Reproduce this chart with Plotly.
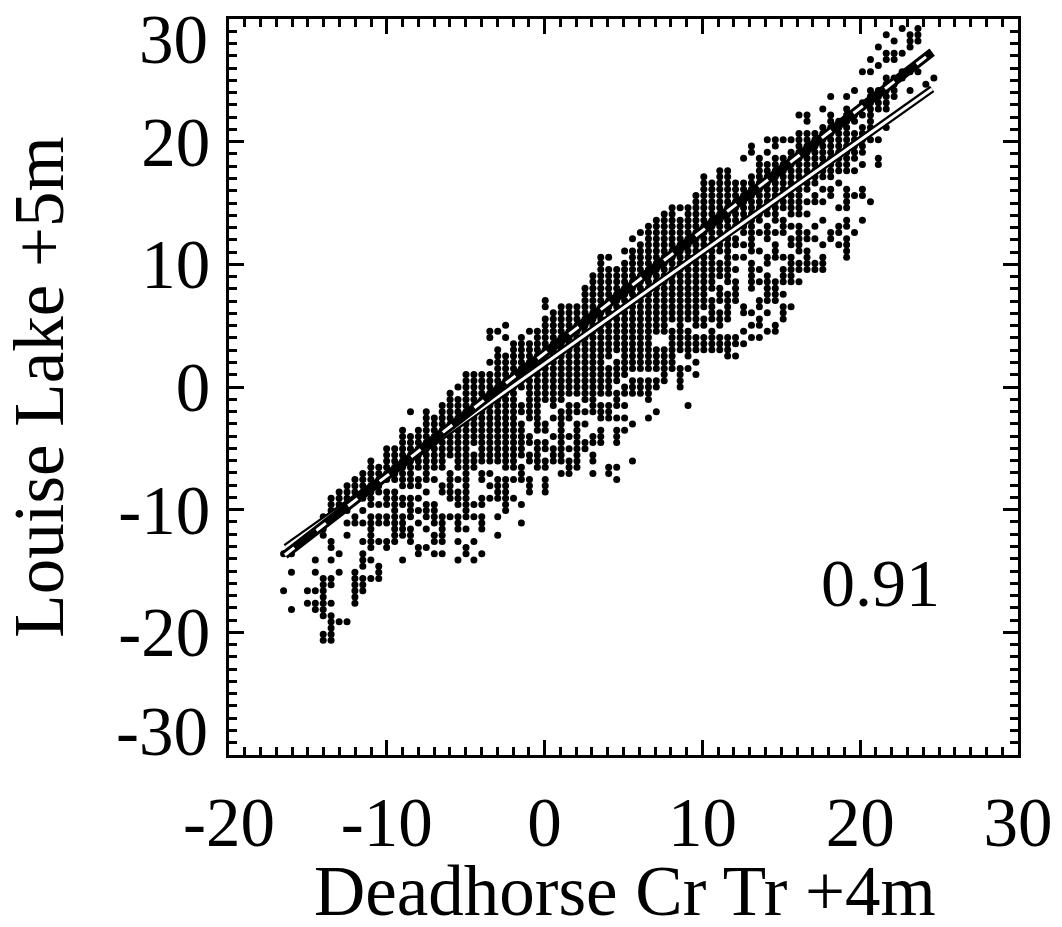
import plotly.graph_objects as go

x_levels = [-16.54,-16.04,-15.54,-15.03,-14.53,-14.03,-13.53,-13.02,-12.52,-12.02,
 -11.52,-11.01,-10.51,-10.01,-9.50,-9.00,-8.50,-8.00,-7.50,-6.99,
 -6.49,-5.99,-5.49,-4.98,-4.48,-3.98,-3.47,-2.97,-2.47,-1.97,
 -1.47,-0.96,-0.46,0.04,0.55,1.05,1.55,2.05,2.56,3.06,
 3.56,4.06,4.57,5.07,5.57,6.07,6.58,7.08,7.58,8.08,
 8.59,9.09,9.59,10.09,10.60,11.10,11.60,12.10,12.61,13.11,
 13.61,14.11,14.62,15.12,15.62,16.12,16.63,17.13,17.63,18.13,
 18.64,19.14,19.64,20.14,20.65,21.15,21.65,22.15,22.66,23.16,
 23.66,24.16,24.67]

y_levels = [-20.65,-20.15,-19.64,-19.14,-18.64,-18.13,-17.63,-17.12,-16.62,-16.12,
 -15.61,-15.11,-14.61,-14.10,-13.60,-13.09,-12.59,-12.09,-11.58,-11.08,
 -10.58,-10.07,-9.57,-9.06,-8.56,-8.06,-7.55,-7.05,-6.55,-6.04,
 -5.54,-5.03,-4.53,-4.03,-3.52,-3.02,-2.52,-2.01,-1.51,-1.01,
 -0.50,0.00,0.50,1.01,1.51,2.02,2.52,3.03,3.53,4.03,
 4.54,5.04,5.54,6.05,6.55,7.05,7.56,8.06,8.57,9.07,
 9.57,10.08,10.58,11.08,11.59,12.09,12.60,13.10,13.60,14.11,
 14.61,15.11,15.62,16.12,16.63,17.13,17.63,18.14,18.64,19.14,
 19.65,20.15,20.66,21.16,21.66,22.17,22.67,23.18,23.68,24.18,
 24.69,25.19,25.69,26.20,26.70,27.21,27.71,28.21,28.72,29.22]

# occupied y_levels rows, one entry per x_levels column
column_rows = [
 "8,14", "5,11,14", "", "6,8", "5-6,8,11,13",
 "0-1,4-10,17-18,20", "0-4,6,9-10,13,15-16,21-23", "3,11,14,21-24", "3,17,19,21-25", "6-11,19-20,23-26",
 "8-10,12-14,16,19,21,23-27", "10,13,15-20,22-29", "10-12,16,19-20,22,24-28", "15-16,19-20,22-24,26-31", "16-24,26-31",
 "13,17-20,22-23,25-34", "16-18,20-23,25-33,37", "14-15,19,21,23,25-26,28-34", "15,18,20-22,24,26-37", "14,16-17,19-22,26,28-36",
 "14,16-20,24-25,28-38", "20,23-27,30-40", "13,16,18-20,22-24,26,28-39,41", "14-15,18,20-43", "13,16,20,22,28-30,32-43",
 "14,18-20,22-23,26-27,29-43", "23,25,27,29-43,45,49-50", "17,20,23-26,29-47,50", "21-26,28-46,49,51", "23,26,28-48",
 "19,22,26-28,30-35,37-38,41-49", "24-26,29-30,32-33,36-48,50", "28-32,34-50", "24-26,28-29,31-32,34-35,39-52,54-55", "29-31,33,36,38-53",
 "27,29-37,39-54", "27-29,31,33,36-38,40-54", "28-35,37-38,40-54", "31-32,35,37,39-57", "27,29-30,32-33,37-59",
 "32-34,36-38,40-62", "27-28,36-38,40-44,46-60,62", "26,28,32-34,36,38-40,42-45,47-60", "34,36,38,40-41,43-61,63", "29,35,40-42,44-63,65",
 "40-42,44-64,66", "36,39-42,44-67", "37,41-42,44-47,50-68", "42-47,50-69", "44-50,52-70",
 "41-44,47-68,70", "38,44,46-50,52-70", "43,45,47-49,51-72", "47-49,51-52,54-75", "47-50,52-55,57-74",
 "47-49,51-53,55-57,59-61,63-64,66-76", "46-49,52-56,58-64,65-76", "46,48-49,55-58,60,62,64-65,67-74", "48,50,53-54,62,64,66-74,78", "49,51,53,57-61,63-75,79-80",
 "49,51-52,54-55,58,60,63,66,68-78", "50,53,55-59,61-62,65-67,69-77,79,81", "50-51,55-58,62-64,66,68-78,80-81", "52-54,56,58-60,62,66-68,70-78,81", "54,58-62,64-65,67,69-79,81",
 "58,60-61,63-67,69-82,85", "60-63,65-66,69,71,73-82,84-85", "60-61,65,67,71-72,74-82", "60-62,64,68,71,73,75-83,86", "65-66,72-73,75-85,88",
 "64,66-67,70,74,76-84", "62-65,67-68,70-73,76-86,88", "66,72,76,78-82,84-85,89", "68,72-73,77,79-83,85,87,92", "71,81,83-89,92,94",
 "77-78,81,86-89,93,96", "83,86-91,94-95,98", "88-91,94-95,97", "91-92,95,99", "89,92,96-98",
 "92,97-99", "90", "91",
]

fit_a_x = [-16.4, 24.56]
fit_a_y = [-13.06, 24.3]
fit_b_x = [-16.46, 24.56]
fit_b_y = [-13.7, 27.3]

x_ticks = [-20, -10, 0, 10, 20, 30]
y_ticks = [-20, -10, 0, 10, 20]
y_edge_labels = ["30", "-30"]
correlation = "0.91"
x_title = "Deadhorse Cr Tr +4m"
y_title = "Louise Lake +5m"

FONT = "Liberation Serif"
TICK_SIZE = 69
TITLE_SIZE = 71

px, py = [], []
for xv, spec in zip(x_levels, column_rows):
    for part in filter(None, spec.split(",")):
        lo, _, hi = part.partition("-")
        for j in range(int(lo), int(hi or lo) + 1):
            px.append(xv)
            py.append(y_levels[j])

fig = go.Figure()
fig.add_trace(go.Scatter(x=px, y=py, mode="markers",
                         marker=dict(color="black", size=7, line=dict(width=0))))
fig.add_trace(go.Scatter(x=fit_a_x, y=fit_a_y, mode="lines", line=dict(color="black", width=7.5)))
fig.add_trace(go.Scatter(x=fit_a_x, y=fit_a_y, mode="lines", line=dict(color="white", width=3)))
fig.add_trace(go.Scatter(x=fit_b_x, y=fit_b_y, mode="lines", line=dict(color="black", width=9)))
fig.add_trace(go.Scatter(x=fit_b_x, y=fit_b_y, mode="lines", line=dict(color="white", width=3, dash="12px,28px")))

axis = dict(showgrid=False, zeroline=False, showline=True, linecolor="black", linewidth=3,
            mirror="allticks", ticks="inside", ticklen=15, tickwidth=2.5, tickcolor="black",
            automargin=False,
            tickfont=dict(family=FONT, size=TICK_SIZE, color="black"),
            minor=dict(ticks="inside", dtick=1, ticklen=8, tickwidth=2.5, tickcolor="black", showgrid=False))

edge_notes = [
    dict(x=0, y=yp, xref="paper", yref="paper", xanchor="right", yanchor="middle", xshift=-19,
         text=t, showarrow=False, font=dict(family=FONT, size=TICK_SIZE, color="black"))
    for t, yp in zip(y_edge_labels, [0.971, 0.031])
]

fig.update_layout(
    width=1062, height=927, autosize=False, showlegend=False,
    paper_bgcolor="white", plot_bgcolor="white",
    margin=dict(l=229, r=44, t=19, b=172),
    xaxis=dict(axis, range=[-20, 30], tickmode="array", tickvals=x_ticks,
               ticktext=[str(v) for v in x_ticks], ticklabelstandoff=5),
    yaxis=dict(axis, range=[-30, 30], tickmode="array", tickvals=y_ticks,
               ticktext=[str(v) for v in y_ticks], ticklabelstandoff=2,
               title=dict(text=y_title, font=dict(family=FONT, size=TITLE_SIZE, color="black"), standoff=42)),
    annotations=edge_notes + [
        dict(x=21.27, y=-16.0, xref="x", yref="y", text=correlation, showarrow=False,
             font=dict(family=FONT, size=68, color="black")),
        dict(x=0.502, y=-0.1845, xref="paper", yref="paper", text=x_title, showarrow=False,
             yanchor="middle", font=dict(family=FONT, size=TITLE_SIZE, color="black"))],
)
fig.write_html("out.html", post_script="document.body.style.margin='0';",
               config={"displayModeBar": False})
